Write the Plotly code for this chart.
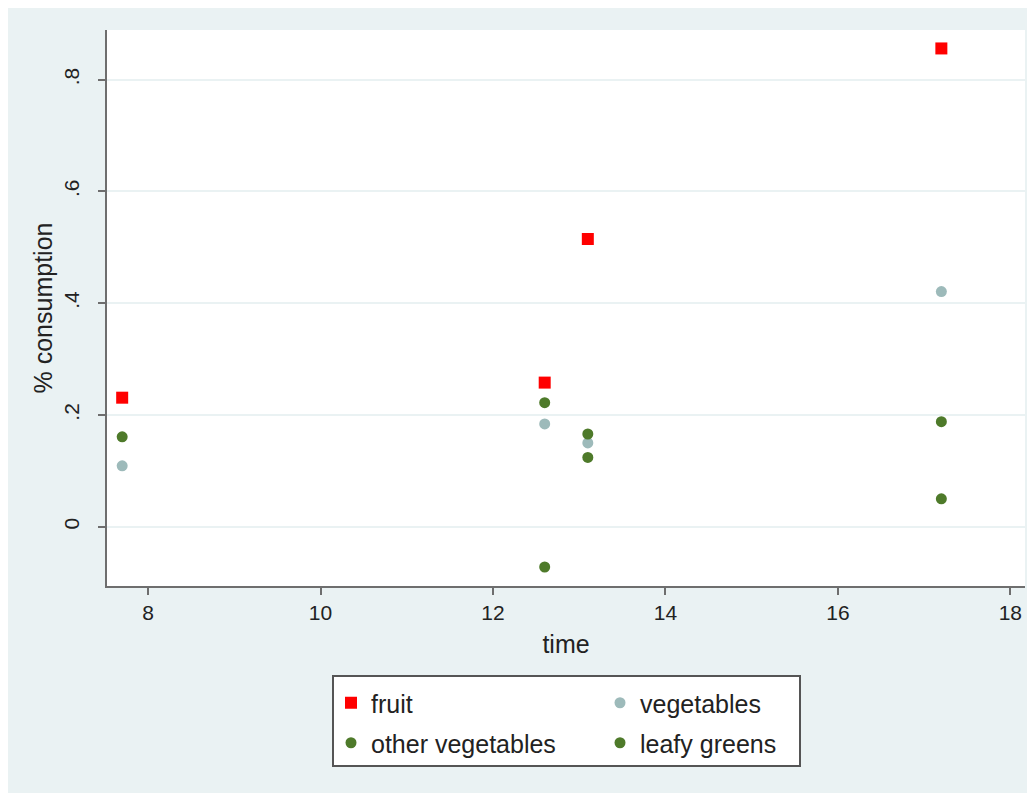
import plotly.graph_objects as go

# data
fruit_x = [7.7, 12.6, 13.1, 17.2]
fruit_y = [0.231, 0.258, 0.515, 0.856]
veg_x = [7.7, 12.6, 13.1, 17.2]
veg_y = [0.109, 0.184, 0.150, 0.421]
other_x = [7.7, 12.6, 13.1, 17.2]
other_y = [0.161, 0.222, 0.166, 0.188]
leafy_x = [12.6, 13.1, 17.2]
leafy_y = [-0.072, 0.124, 0.050]

x_ticks = [8, 10, 12, 14, 16, 18]
y_ticks = [0, 0.2, 0.4, 0.6, 0.8]
y_ticktext = ["0", ".2", ".4", ".6", ".8"]

BG = "#EAF2F3"
RED = "#FF0000"
TEAL = "#9DBABA"
GREEN = "#4E7A2A"
AXIS = "#6E6E6E"
FONT = "Liberation Sans, Arial, sans-serif"

# the page body adds an 8px offset
OFF = 8
W, H = 1035 - OFF, 793 - OFF
ML, MR, MT, MB = 107 - OFF, 10, 30 - OFF, 207
PW, PH = W - ML - MR, H - MT - MB

def px_x(p):
    return (p - OFF - ML) / PW

def px_y(p):
    return (H - MB - (p - OFF)) / PH

fig = go.Figure()
fig.add_trace(go.Scatter(x=fruit_x, y=fruit_y, mode="markers", name="fruit", showlegend=True,
                         marker=dict(symbol="square", size=12, color=RED), legend="legend"))
fig.add_trace(go.Scatter(x=veg_x, y=veg_y, mode="markers", name="vegetables", showlegend=True,
                         marker=dict(symbol="circle", size=11, color=TEAL), legend="legend2"))
fig.add_trace(go.Scatter(x=other_x, y=other_y, mode="markers", name="other vegetables", showlegend=True,
                         marker=dict(symbol="circle", size=11, color=GREEN), legend="legend3"))
fig.add_trace(go.Scatter(x=leafy_x, y=leafy_y, mode="markers", name="leafy greens", showlegend=True,
                         marker=dict(symbol="circle", size=11, color=GREEN), legend="legend4"))

leg_common = dict(bgcolor="rgba(0,0,0,0)", borderwidth=0, font=dict(family=FONT, size=25, color="#222"),
                  xanchor="left", yanchor="middle", xref="paper", yref="paper")

fig.update_layout(
    width=W, height=H, showlegend=True,
    margin=dict(l=ML, r=MR, t=MT, b=MB),
    paper_bgcolor=BG, plot_bgcolor="white",
    font=dict(family=FONT, size=21, color="#222"),
    xaxis=dict(range=[7.524, 18.17], tickvals=x_ticks, showgrid=False, zeroline=False,
               showline=True, linecolor=AXIS, linewidth=2, ticks="outside", ticklen=7,
               tickwidth=2, tickcolor=AXIS, title=dict(text="time", standoff=12),
               tickfont=dict(size=21)),
    yaxis=dict(range=[-0.106, 0.889], tickvals=y_ticks, ticktext=y_ticktext, tickangle=-90,
               showgrid=True, gridcolor=BG, gridwidth=2, zeroline=False,
               showline=True, linecolor=AXIS, linewidth=2, ticks="outside", ticklen=7,
               tickwidth=2, tickcolor=AXIS, ticklabelstandoff=11,
               title=dict(text="% consumption", standoff=0),
               tickfont=dict(size=21)),
    legend=dict(x=px_x(331), y=px_y(743 - 40), **leg_common),
    legend2=dict(x=px_x(600), y=px_y(743 - 40), **leg_common),
    legend3=dict(x=px_x(331), y=px_y(743), **leg_common),
    legend4=dict(x=px_x(600), y=px_y(743), **leg_common),
    shapes=[dict(type="rect", xref="paper", yref="paper",
                 x0=px_x(333), x1=px_x(800), y0=px_y(676), y1=px_y(766),
                 fillcolor="white", line=dict(color="#555555", width=2), layer="below")],
)

fig.write_html("out.html")
